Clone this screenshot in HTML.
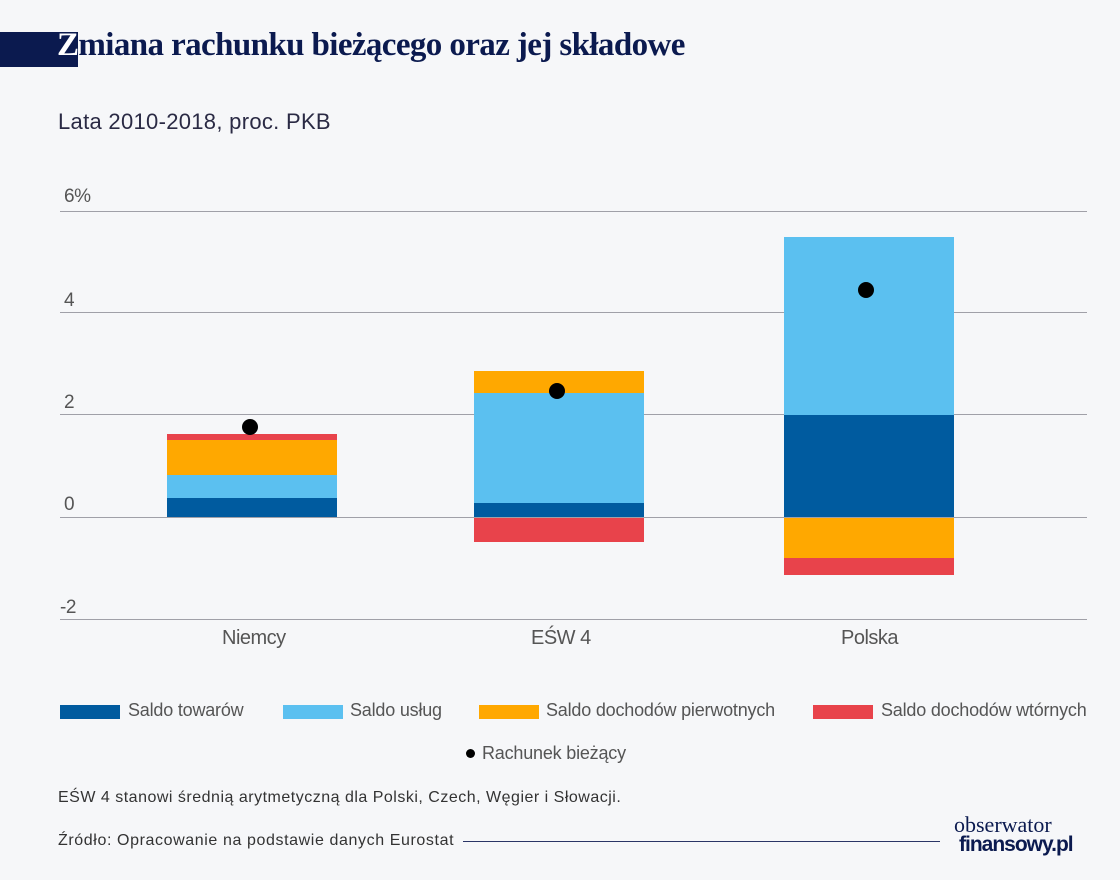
<!DOCTYPE html><html><head><meta charset="utf-8"><style>
body{margin:0;width:1120px;height:880px;background:#f6f7f9;position:relative;overflow:hidden;font-family:"Liberation Sans",sans-serif;color:#3a3a4a}
.a{position:absolute;white-space:nowrap}
.g{position:absolute;left:60px;width:1027px;height:1px;background:#a0a0a8}
.b{position:absolute}
.t{font-size:19px;color:#555;letter-spacing:-0.5px}
.sw{position:absolute;width:60px;height:14px}
</style></head><body>
<div class="a" style="left:0;top:32px;width:78px;height:35px;background:#0b1a4f"></div>
<div class="a" style="left:57px;top:27px;font-family:'Liberation Serif',serif;font-weight:bold;font-size:33px;color:#0b1a4f;letter-spacing:-0.6px"><span style="color:#fff">Z</span>miana rachunku bieżącego oraz jej składowe</div>
<div class="a" style="left:58px;top:109px;font-size:22px;color:#2a2a44;letter-spacing:0.3px">Lata 2010-2018, proc. PKB</div>
<div class="g" style="top:211px"></div><div class="g" style="top:312px"></div><div class="g" style="top:414px"></div><div class="g" style="top:517px"></div><div class="g" style="top:619px"></div>
<div class="a t" style="left:64px;top:186px">6%</div>
<div class="a t" style="left:64px;top:290px">4</div>
<div class="a t" style="left:64px;top:392px">2</div>
<div class="a t" style="left:64px;top:494px">0</div>
<div class="a t" style="left:60px;top:597px">-2</div>
<div class="b" style="left:167px;width:170px;top:498px;height:19px;background:#005b9f"></div>
<div class="b" style="left:167px;width:170px;top:475px;height:23px;background:#5bc0f0"></div>
<div class="b" style="left:167px;width:170px;top:440px;height:35px;background:#ffa800"></div>
<div class="b" style="left:167px;width:170px;top:434px;height:6px;background:#e8434b"></div>
<div class="b" style="left:474px;width:170px;top:503px;height:14px;background:#005b9f"></div>
<div class="b" style="left:474px;width:170px;top:393px;height:110px;background:#5bc0f0"></div>
<div class="b" style="left:474px;width:170px;top:371px;height:22px;background:#ffa800"></div>
<div class="b" style="left:474px;width:170px;top:518px;height:24px;background:#e8434b"></div>
<div class="b" style="left:784px;width:170px;top:415px;height:102px;background:#005b9f"></div>
<div class="b" style="left:784px;width:170px;top:237px;height:178px;background:#5bc0f0"></div>
<div class="b" style="left:784px;width:170px;top:518px;height:40px;background:#ffa800"></div>
<div class="b" style="left:784px;width:170px;top:558px;height:17px;background:#e8434b"></div>
<div class="b" style="left:242px;top:419px;width:16px;height:16px;border-radius:50%;background:#000"></div>
<div class="b" style="left:549px;top:383px;width:16px;height:16px;border-radius:50%;background:#000"></div>
<div class="b" style="left:858px;top:282px;width:16px;height:16px;border-radius:50%;background:#000"></div>
<div class="a t" style="left:222px;top:627px;font-size:20px">Niemcy</div>
<div class="a t" style="left:531px;top:627px;font-size:20px">EŚW 4</div>
<div class="a t" style="left:841px;top:627px;font-size:20px">Polska</div>
<div class="sw" style="left:60px;top:705px;background:#005b9f"></div><div class="a t" style="left:128px;top:700px;font-size:18px;letter-spacing:-0.2px">Saldo towarów</div>
<div class="sw" style="left:283px;top:705px;background:#5bc0f0"></div><div class="a t" style="left:350px;top:700px;font-size:18px;letter-spacing:-0.2px">Saldo usług</div>
<div class="sw" style="left:479px;top:705px;background:#ffa800"></div><div class="a t" style="left:546px;top:700px;font-size:18px;letter-spacing:-0.2px">Saldo dochodów pierwotnych</div>
<div class="sw" style="left:813px;top:705px;background:#e8434b"></div><div class="a t" style="left:881px;top:700px;font-size:18px;letter-spacing:-0.2px">Saldo dochodów wtórnych</div>
<div class="b" style="left:466px;top:749px;width:9px;height:9px;border-radius:50%;background:#000"></div><div class="a t" style="left:482px;top:743px;font-size:18px;letter-spacing:-0.2px">Rachunek bieżący</div>
<div class="a" style="left:58px;top:789px;font-size:16px;color:#333;letter-spacing:0.5px">EŚW 4 stanowi średnią arytmetyczną dla Polski, Czech, Węgier i Słowacji.</div>
<div class="a" style="left:58px;top:832px;font-size:16px;color:#333;letter-spacing:0.6px">Źródło: Opracowanie na podstawie danych Eurostat</div>
<div class="b" style="left:463px;top:841px;width:477px;height:1px;background:#2a3566"></div>
<div class="a" style="left:954px;top:814px;font-family:'Liberation Serif',serif;font-size:22px;color:#0b1a4f;line-height:22px">obserwator</div>
<div class="a" style="left:959px;top:834px;font-weight:bold;font-size:21px;color:#0b1a4f;letter-spacing:-1px;line-height:22px">finansowy.pl</div>
</body></html>
